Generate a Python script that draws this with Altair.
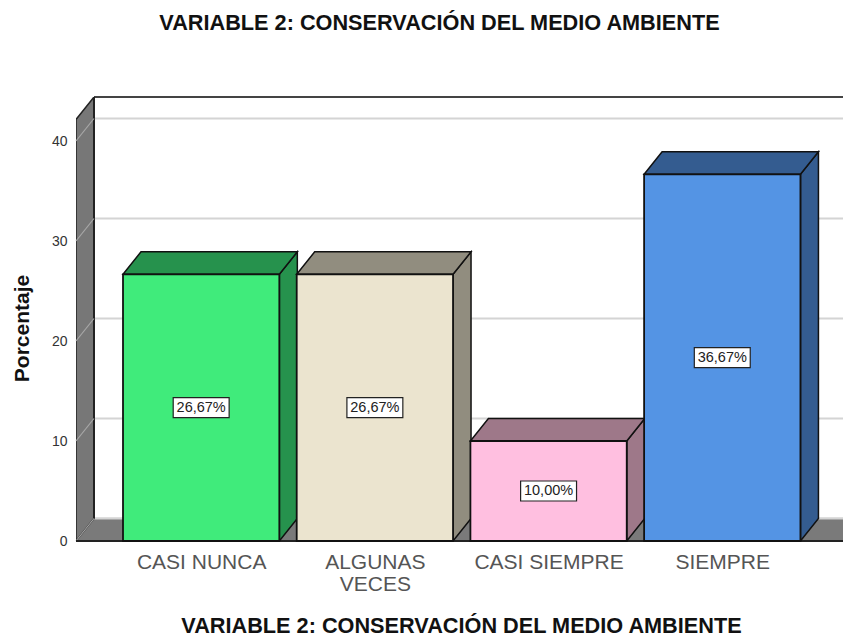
import altair as alt
import pandas as pd

categories = ["CASI NUNCA", "ALGUNAS VECES", "CASI SIEMPRE", "SIEMPRE"]
values = [26.67, 26.67, 10.00, 36.67]
value_labels = ["26,67%", "26,67%", "10,00%", "36,67%"]
y_ticks = [0, 10, 20, 30, 40]
TITLE = "VARIABLE 2: CONSERVACIÓN DEL MEDIO AMBIENTE"

front_colors = ["#40EB7B", "#EBE4CF", "#FFBFE0", "#5494E4"]
side_colors = ["#26924D", "#918D7F", "#9E7889", "#345C90"]

# layout, in slot units (one slot = one bar and its gap)
BAR_W = 0.9
DX = 0.1036
DY = 2.25
Y_TOP = 44.4
X_MIN, X_MAX = -0.2706, 4.145
WALL_L = X_MIN
WALL_R = WALL_L + DX

x_scale = alt.Scale(domain=[X_MIN, X_MAX], nice=False, zero=False)
y_scale = alt.Scale(domain=[0, Y_TOP], nice=False, zero=False)
DARK = "#111111"

centres = [i + BAR_W / 2 for i in range(4)]
label_expr = (
    f"datum.value < 1 ? '{categories[0]}' : datum.value < 2 ? ['ALGUNAS', 'VECES'] : "
    f"datum.value < 3 ? '{categories[2]}' : '{categories[3]}'"
)
x_axis = alt.Axis(
    values=centres, labelExpr=label_expr, grid=False, domain=False, ticks=False,
    labelFont="Liberation Sans", labelFontSize=21, labelColor="#555555",
    labelPadding=10, labelLineHeight=22, labelBaseline="top", labelOverlap=False,
    labelBound=False, labelFlush=False, title=TITLE,
    titleFont="Liberation Sans", titleFontSize=21.7, titleFontWeight="bold", titleColor="#111111",
    titleX=385, titleY=84, titleBaseline="middle", titleAlign="center",
)
y_axis = alt.Axis(
    values=y_ticks, grid=False, domain=False, ticks=False,
    labelFont="Liberation Sans", labelFontSize=14, labelColor="#333333", labelPadding=9,
    title="Porcentaje",
    titleFont="Liberation Sans", titleFontSize=21, titleFontWeight="bold", titleColor="#111111",
    titleX=-54, titleY=231, titleBaseline="middle", titleAngle=270, titleAlign="center",
)

# ---------- faces
sides, tops = [], []
for i, v in enumerate(values):
    l, r = i, i + BAR_W
    sides += [
        dict(b=i, x=r, y=0, y2=v, c=side_colors[i]),
        dict(b=i, x=r + DX, y=DY, y2=v + DY, c=side_colors[i]),
    ]
    tops += [
        dict(b=i, x=l, y=v, y2=v, c=side_colors[i]),
        dict(b=i, x=l + DX, y=v, y2=v + DY, c=side_colors[i]),
        dict(b=i, x=r, y=v, y2=v + DY, c=side_colors[i]),
        dict(b=i, x=r + DX, y=v + DY, y2=v + DY, c=side_colors[i]),
    ]
bars = pd.DataFrame(dict(
    b=range(4),
    x=[i for i in range(4)],
    x2=[i + BAR_W for i in range(4)],
    cx=[i + BAR_W / 2 for i in range(4)],
    v=values,
    mid=[v / 2 for v in values],
    lab=value_labels,
    c=front_colors,
))
bars["bx"] = bars.cx - 0.161
bars["bx2"] = bars.cx + 0.161
bars["by"] = bars.mid - 1.0
bars["by2"] = bars.mid + 1.0


def X(f="x"):
    return alt.X(f"{f}:Q", scale=x_scale, axis=x_axis)


def Y(f="y"):
    return alt.Y(f"{f}:Q", scale=y_scale, axis=y_axis)


def area(rows, **mark):
    return alt.Chart(pd.DataFrame(rows)).mark_area(clip=True, orient="vertical", **mark).encode(
        x=X(), y=Y(), y2="y2:Q",
        color=alt.Color("c:N", scale=None),
        detail="b:N",
    )


# ---------- back wall grid
grid_df = pd.DataFrame({"y": [t + DY for t in y_ticks], "x": [WALL_R] * 5, "x2": [X_MAX] * 5})
grid = alt.Chart(grid_df).mark_rule(color="#d4d4d4", strokeWidth=2).encode(x=X(), x2="x2:Q", y=Y())

top_line = alt.Chart(pd.DataFrame({"y": [Y_TOP], "x": [WALL_R], "x2": [X_MAX]})).mark_rule(
    color="#444444", strokeWidth=2).encode(x=X(), x2="x2:Q", y=Y())

# ---------- walls
wall = area([
    dict(b=0, x=WALL_L, y=0, y2=Y_TOP - DY, c="#777777"),
    dict(b=0, x=WALL_R, y=DY, y2=Y_TOP, c="#777777"),
], stroke="#222222", strokeWidth=1.5)
floor = area([
    dict(b=0, x=WALL_L, y=0, y2=0, c="#7A7A7A"),
    dict(b=0, x=WALL_R, y=0, y2=DY, c="#7A7A7A"),
    dict(b=0, x=X_MAX, y=0, y2=DY, c="#7A7A7A"),
])
floor_back = alt.Chart(pd.DataFrame({"y": [DY], "x": [WALL_R], "x2": [X_MAX]})).mark_rule(
    color="#d4d4d4", strokeWidth=2).encode(x=X(), x2="x2:Q", y=Y())
wall_edge = alt.Chart(pd.DataFrame({"x": [WALL_R], "y": [DY], "y2": [Y_TOP]})).mark_rule(
    color="#222222", strokeWidth=2).encode(x=X(), y=Y(), y2="y2:Q")

diag_rows = []
for t in y_ticks:
    diag_rows += [dict(t=t, x=WALL_L, y=t, o=0), dict(t=t, x=WALL_R, y=t + DY, o=1)]
diag = alt.Chart(pd.DataFrame(diag_rows)).mark_line(color="#a8a8a8", strokeWidth=1.2).encode(
    x=X(), y=Y(), detail="t:N", order="o:Q")

base_line = alt.Chart(pd.DataFrame({"y": [0], "x": [WALL_L], "x2": [X_MAX]})).mark_rule(
    color="#222222", strokeWidth=2).encode(x=X(), x2="x2:Q", y=Y())

# ---------- bars
side_faces = area(sides, stroke=DARK, strokeWidth=1.5)
top_faces = area(tops, stroke=DARK, strokeWidth=1.5)
fronts = alt.Chart(bars).mark_rect(stroke=DARK, strokeWidth=1.8).encode(
    x=X(), x2="x2:Q", y=Y("v"), y2=alt.datum(0),
    color=alt.Color("c:N", scale=None),
)
boxes = alt.Chart(bars).mark_rect(fill="white", stroke="#222222", strokeWidth=1.2).encode(
    x=X("bx"), x2="bx2:Q", y=Y("by"), y2="by2:Q",
)
labels = alt.Chart(bars).mark_text(font="Liberation Sans", fontSize=14.5, color="#222222").encode(
    x=X("cx"), y=Y("mid"), text="lab:N",
)

chart = alt.layer(
    grid, top_line, floor, floor_back, wall, wall_edge, diag, base_line,
    side_faces, top_faces, fronts, boxes, labels,
).properties(
    width=767,
    height=444,
    padding={"left": 68, "top": 89, "right": 0, "bottom": 95},
    autosize=alt.AutoSizeParams(type="none"),
    title=alt.TitleParams(
        TITLE, anchor="middle", dx=-20, offset=51, baseline="middle",
        font="Liberation Sans", fontSize=21.7, fontWeight="bold", color="#111111",
    ),
).configure_view(stroke=None)

chart.save("out.html", embed_options={"renderer": "svg", "actions": False})
